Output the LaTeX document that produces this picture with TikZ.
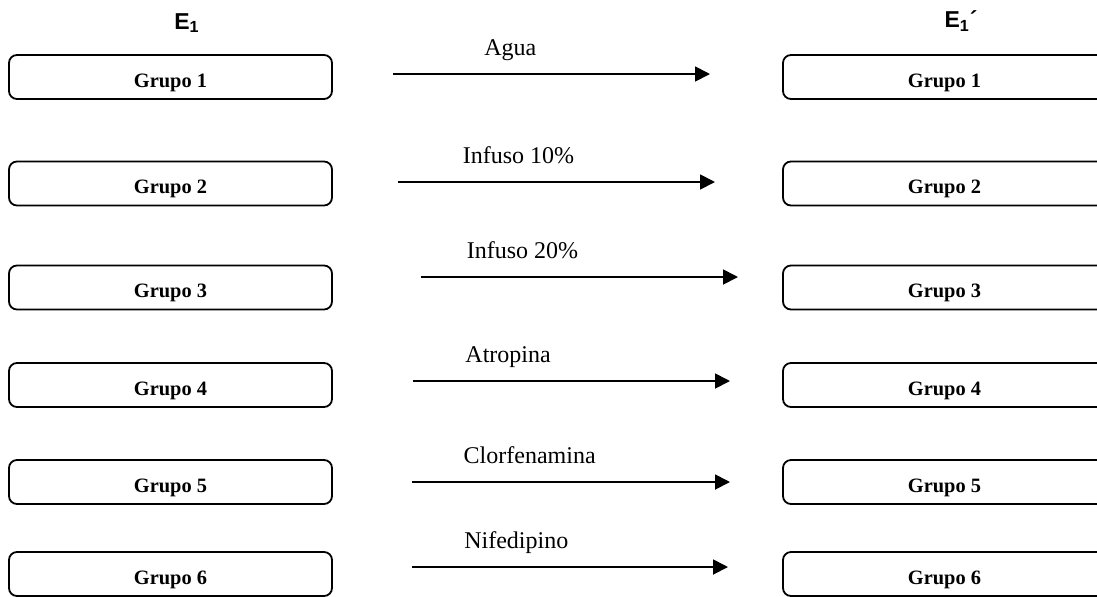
\documentclass[tikz,border=0pt]{standalone}
\usepackage{fontspec}
\setmainfont{Liberation Serif}
\newfontfamily\arial{Liberation Sans}
\usetikzlibrary{arrows.meta}

\tikzset{
  grupo/.style={draw, line width=.9pt, rounded corners=4pt,
    minimum width=161.5pt, minimum height=22pt, inner sep=0pt,
    font=\bfseries\fontsize{10.2}{12}\selectfont},
  flecha/.style={line width=.9pt, -{Triangle[length=7.5pt,width=7.5pt]}},
  dosis/.style={inner sep=0pt, text height=8pt, text depth=2.5pt,
    font=\fontsize{12}{14}\selectfont},
  encab/.style={font=\arial\bfseries\fontsize{11.5}{13}\selectfont}
}

\begin{document}
\begin{tikzpicture}[x=.5pt,y=-.5pt]
  \useasboundingbox (0,0) rectangle (1097,596);
  \node[encab] (e1) at (187,23) {E\textsubscript{1}};
  \node[encab] (e1p) at (961,21) {E\textsubscript{1}´};
  \foreach \n/\yb/\ya/\xa/\xb/\d/\p in {1/77/74/393/710/Agua/.37,%
          2/183.5/182/398/715/Infuso 10\%/.38,%
          3/287.5/277/421/738/Infuso 20\%/.32,%
          4/385/381/413/730/Atropina/.30,%
          5/482/482/412/730/Clorfenamina/.37,%
          6/574/567/412/728/Nifedipino/.33}
  {\node[grupo] (g\n) at (170.5,\yb) {\raisebox{-5pt}[0pt][0pt]{Grupo \n}};
  \node[grupo] (h\n) at (944.5,\yb) {\raisebox{-5pt}[0pt][0pt]{Grupo \n}};
  \coordinate (s\n) at (\xa,\ya);
  \coordinate (t\n) at (\xb,\ya);
  \draw[flecha] (s\n) -- node[dosis, pos=\p, above=6.5pt] {\d} (t\n);}
\end{tikzpicture}
\end{document}
